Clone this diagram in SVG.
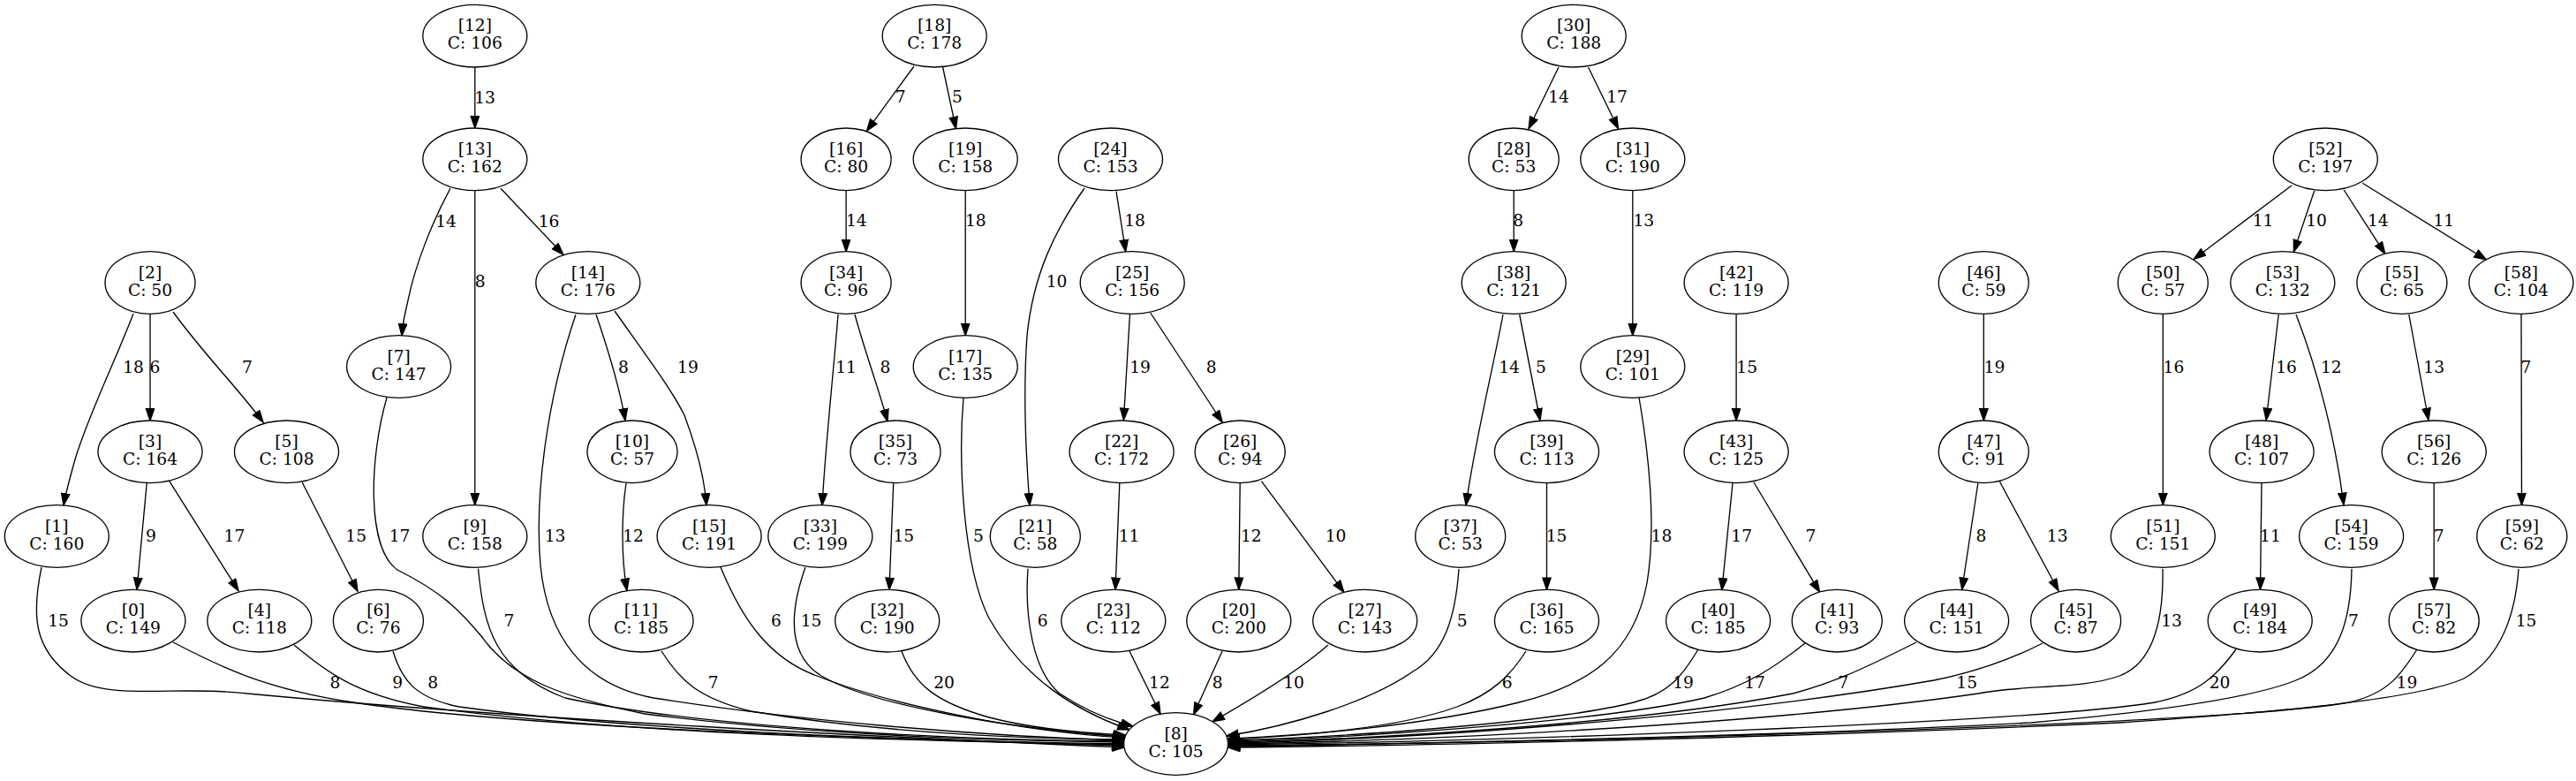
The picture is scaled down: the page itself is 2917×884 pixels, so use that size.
<svg xmlns="http://www.w3.org/2000/svg" width="2917" height="884" viewBox="0 0 2917 884">
<style>
.node ellipse{fill:#fff;stroke:#000;stroke-width:1.33}
text{font-family:"DejaVu Serif","Liberation Serif",serif;font-size:18.67px;text-anchor:middle;fill:#000}
#edges path{fill:none;stroke:#000;stroke-width:1.33;marker-end:url(#arr)}
</style>
<defs>
<marker id="arr" markerUnits="userSpaceOnUse" markerWidth="16" markerHeight="12" refX="14" refY="5.37" orient="auto">
<path d="M0.7,0.7 L14,5.37 L0.7,10 z" fill="#000" stroke="#000" stroke-width="1.33"/>
</marker>
</defs>
<rect width="2917" height="884" fill="#fff"/>
<g id="edges">
<path d="M537.8,76 L537.8,145"/>
<path d="M1035,75 L981.4,148.3"/>
<path d="M1067.6,76 L1082.5,145.7"/>
<path d="M958.1,215.6 L958.1,284.7"/>
<path d="M1093.2,215.6 L1093.2,379.7"/>
<path d="M1264,216.7 L1274.7,285"/>
<path d="M1228,213 C1195,260 1170,310 1163,380 C1158,450 1162,520 1166,572"/>
<path d="M949,356 C944,420 935,500 931,572"/>
<path d="M968,356 C980,400 995,440 1005,477"/>
<path d="M1279.4,356 L1272.4,475.5"/>
<path d="M1302.7,354 L1384.2,478"/>
<path d="M1011.7,547 L1007,667.5"/>
<path d="M1267.8,547 L1263,667.5"/>
<path d="M1404.2,546.6 L1402.8,667.4"/>
<path d="M1428.4,544.7 L1521.9,670.3"/>
<path d="M510,213 C490,250 470,300 462,340 C458,355 456,368 455,380"/>
<path d="M537.8,215.6 L537.8,571.7"/>
<path d="M567,213.3 L637.9,288.3"/>
<path d="M675,356 C690,400 702,440 708,476"/>
<path d="M696,352 C730,400 760,440 775,470 C790,510 798,545 800,572"/>
<path d="M151,355 C130,410 100,470 85,520 C78,545 74,560 72,572"/>
<path d="M170,355.3 L170,476"/>
<path d="M196,353 C230,400 270,440 298,478"/>
<path d="M166.2,547 L155,667.5"/>
<path d="M191.8,544.7 L270,668.7"/>
<path d="M342.2,546 L405,669.3"/>
<path d="M709,547 C704,580 703,630 710,668.5"/>
<path d="M1765,76 L1731,145.7"/>
<path d="M1798.5,76 L1832.5,145.7"/>
<path d="M1714.2,215.6 L1714.2,284.7"/>
<path d="M1848.8,215.6 L1848.8,379.7"/>
<path d="M1702,356 C1690,420 1670,500 1660,572"/>
<path d="M1720.7,356 L1744,476"/>
<path d="M1751.5,546.6 L1751.5,667.4"/>
<path d="M1966.1,355.3 L1966.1,476"/>
<path d="M1962,547 L1949.8,668"/>
<path d="M1986,546 L2060.6,670.3"/>
<path d="M2246.3,355.3 L2246.3,476"/>
<path d="M2239.8,547 L2221.7,667.5"/>
<path d="M2264.5,545.3 L2331,668.7"/>
<path d="M2595,210 L2484.3,293.3"/>
<path d="M2620.7,216 L2597.4,285"/>
<path d="M2654.2,215 L2700.8,287.3"/>
<path d="M2675.2,207.3 L2815.3,294"/>
<path d="M2449.3,355.3 L2449.3,571.7"/>
<path d="M2580.2,356 L2566.2,475.5"/>
<path d="M2600,356 C2625,420 2645,500 2654,571.5"/>
<path d="M2727.8,356 L2750,475.5"/>
<path d="M2855,355.3 L2855.5,571.7"/>
<path d="M2561,546.6 L2559.5,667.4"/>
<path d="M2756.2,546.6 L2756.2,667.4"/>
<path d="M47,642 C35,700 40,735 80,765 C120,795 200,775 280,785 C600,815 1000,834 1273,846"/>
<path d="M196,727 C250,755 300,780 400,795 C600,825 1000,836 1272.6,844"/>
<path d="M333,730 C370,760 400,785 480,800 C700,830 1000,838 1272.6,843"/>
<path d="M445,737 C455,770 470,790 520,800 C700,825 1000,838 1272.6,842"/>
<path d="M438,450 C418,520 415,620 450,645 C500,670 520,690 545,720 C580,770 640,790 730,808 C900,830 1100,838 1272.7,840"/>
<path d="M541.5,643.7 C548,710 560,760 640,790 C800,825 1100,838 1272.8,839"/>
<path d="M652,356 C620,450 605,560 612,640 C620,720 660,775 740,790 C900,815 1100,833 1273,838"/>
<path d="M749,737 C770,770 790,790 850,805 C1000,830 1150,836 1273,837"/>
<path d="M816,642 C840,700 870,745 925,765 C1000,795 1150,828 1273.5,835"/>
<path d="M912,642 C895,690 890,740 930,765 C990,800 1150,825 1274,834"/>
<path d="M1021,737 C1035,775 1060,795 1120,812 C1170,825 1230,830 1274.5,832"/>
<path d="M1091,450 C1085,520 1090,640 1120,700 C1160,770 1220,805 1279,826"/>
<path d="M1164,643.7 C1160,700 1170,760 1200,785 C1230,805 1255,815 1283,822"/>
<path d="M1279,737 L1314,808.3"/>
<path d="M1384,737 L1351.6,808.8"/>
<path d="M1504,730 C1470,760 1420,790 1373,816.8"/>
<path d="M1652,644 C1648,700 1635,740 1600,760 C1550,795 1460,822 1389,833"/>
<path d="M1728,737 C1710,765 1690,785 1650,800 C1580,825 1480,832 1390,836"/>
<path d="M1856,450 C1868,520 1875,600 1865,660 C1850,740 1800,775 1720,795 C1620,820 1480,833 1390.5,837"/>
<path d="M1923,735 C1905,765 1890,785 1850,795 C1750,820 1500,835 1390.5,838"/>
<path d="M2044,728 C2010,755 1980,775 1930,790 C1800,820 1500,836 1390.5,839"/>
<path d="M2170,727 C2120,752 2080,772 2030,785 C1850,820 1550,837 1390.5,840"/>
<path d="M2313,728 C2280,745 2240,760 2190,770 C1950,812 1600,837 1390.5,841"/>
<path d="M2449,644 C2450,700 2440,750 2400,765 C2360,780 2290,775 2240,785 C2000,820 1600,839 1390.5,842"/>
<path d="M2532,735 C2510,765 2490,785 2440,795 C2300,818 1700,839 1390.5,843"/>
<path d="M2663,644 C2662,700 2650,750 2600,770 C2550,790 2450,805 2300,818 C2000,834 1600,842 1390.5,844"/>
<path d="M2737,735 C2720,762 2705,785 2660,795 C2550,815 2000,836 1390.5,845"/>
<path d="M2852,644 C2848,700 2830,745 2790,768 C2740,790 2600,805 2400,818 C2000,836 1600,844 1390.5,846"/>
</g>
<g id="edge-labels">
<text x="549" y="116.5">13</text>
<text x="505" y="256.5">14</text>
<text x="621.6" y="256.5">16</text>
<text x="543.8" y="324.5">8</text>
<text x="151" y="421.5">18</text>
<text x="175.5" y="421.5">6</text>
<text x="280" y="421.5">7</text>
<text x="706" y="421.5">8</text>
<text x="1019.6" y="115.5">7</text>
<text x="1083.9" y="115.5">5</text>
<text x="969.8" y="255.5">14</text>
<text x="1104.8" y="255.5">18</text>
<text x="1285" y="255.5">18</text>
<text x="1196.5" y="324.5">10</text>
<text x="778.9" y="421.5">19</text>
<text x="958" y="421.5">11</text>
<text x="1002.4" y="421.5">8</text>
<text x="1291" y="421.5">19</text>
<text x="1371.6" y="421.5">8</text>
<text x="1765" y="115.5">14</text>
<text x="1831" y="115.5">17</text>
<text x="1719.3" y="255.5">8</text>
<text x="1861.3" y="255.5">13</text>
<text x="1709" y="421.5">14</text>
<text x="1745" y="421.5">5</text>
<text x="1978.2" y="421.5">15</text>
<text x="2562.5" y="255.5">11</text>
<text x="2623" y="255.5">10</text>
<text x="2692.8" y="255.5">14</text>
<text x="2767.3" y="255.5">11</text>
<text x="2258.4" y="421.5">19</text>
<text x="2461.4" y="421.5">16</text>
<text x="2589" y="421.5">16</text>
<text x="2639.8" y="421.5">12</text>
<text x="2756.2" y="421.5">13</text>
<text x="2860.5" y="421.5">7</text>
<text x="170.9" y="612.5">9</text>
<text x="265.4" y="612.5">17</text>
<text x="403.2" y="612.5">15</text>
<text x="452.6" y="612.5">17</text>
<text x="628.6" y="612.5">13</text>
<text x="717" y="612.5">12</text>
<text x="66.1" y="708.5">15</text>
<text x="576.4" y="708.5">7</text>
<text x="379.5" y="778.5">8</text>
<text x="450.2" y="778.5">9</text>
<text x="490.3" y="778.5">8</text>
<text x="1023.3" y="612.5">15</text>
<text x="1108" y="612.5">5</text>
<text x="1278.5" y="612.5">11</text>
<text x="1416.8" y="612.5">12</text>
<text x="879" y="708.5">6</text>
<text x="918.6" y="708.5">15</text>
<text x="1180.7" y="708.5">6</text>
<text x="807.8" y="778.5">7</text>
<text x="1069" y="778.5">20</text>
<text x="1312.9" y="778.5">12</text>
<text x="1378.6" y="778.5">8</text>
<text x="1465" y="778.5">10</text>
<text x="1512.6" y="612.5">10</text>
<text x="1762.6" y="612.5">15</text>
<text x="1881.4" y="612.5">18</text>
<text x="1972.2" y="612.5">17</text>
<text x="2050.4" y="612.5">7</text>
<text x="1655.6" y="708.5">5</text>
<text x="1706.8" y="778.5">6</text>
<text x="1906" y="778.5">19</text>
<text x="1987" y="778.5">17</text>
<text x="2087.2" y="778.5">7</text>
<text x="2243.5" y="612.5">8</text>
<text x="2329.7" y="612.5">13</text>
<text x="2570.9" y="612.5">11</text>
<text x="2761.8" y="612.5">7</text>
<text x="2459.1" y="708.5">13</text>
<text x="2664.9" y="708.5">7</text>
<text x="2860.5" y="708.5">15</text>
<text x="2227.2" y="778.5">15</text>
<text x="2513.6" y="778.5">20</text>
<text x="2725.4" y="778.5">19</text>
</g>
<g id="n12" class="node"><ellipse cx="537.8" cy="40.7" rx="59" ry="35.3"/><text x="537.8" y="35.4">[12]</text><text x="537.8" y="55.4">C: 106</text></g>
<g id="n18" class="node"><ellipse cx="1058.2" cy="40.7" rx="59" ry="35.3"/><text x="1058.2" y="35.4">[18]</text><text x="1058.2" y="55.4">C: 178</text></g>
<g id="n30" class="node"><ellipse cx="1782.2" cy="40.7" rx="59" ry="35.3"/><text x="1782.2" y="35.4">[30]</text><text x="1782.2" y="55.4">C: 188</text></g>
<g id="n13" class="node"><ellipse cx="537.8" cy="180.3" rx="59" ry="35.3"/><text x="537.8" y="175">[13]</text><text x="537.8" y="195">C: 162</text></g>
<g id="n16" class="node"><ellipse cx="958.1" cy="180.3" rx="51" ry="35.3"/><text x="958.1" y="175">[16]</text><text x="958.1" y="195">C: 80</text></g>
<g id="n19" class="node"><ellipse cx="1093.2" cy="180.3" rx="59" ry="35.3"/><text x="1093.2" y="175">[19]</text><text x="1093.2" y="195">C: 158</text></g>
<g id="n24" class="node"><ellipse cx="1257.5" cy="180.3" rx="59" ry="35.3"/><text x="1257.5" y="175">[24]</text><text x="1257.5" y="195">C: 153</text></g>
<g id="n28" class="node"><ellipse cx="1714.2" cy="180.3" rx="51" ry="35.3"/><text x="1714.2" y="175">[28]</text><text x="1714.2" y="195">C: 53</text></g>
<g id="n31" class="node"><ellipse cx="1848.8" cy="180.3" rx="59" ry="35.3"/><text x="1848.8" y="175">[31]</text><text x="1848.8" y="195">C: 190</text></g>
<g id="n52" class="node"><ellipse cx="2633.3" cy="180.3" rx="59" ry="35.3"/><text x="2633.3" y="175">[52]</text><text x="2633.3" y="195">C: 197</text></g>
<g id="n2" class="node"><ellipse cx="170" cy="320" rx="51" ry="35.3"/><text x="170" y="314.7">[2]</text><text x="170" y="334.7">C: 50</text></g>
<g id="n14" class="node"><ellipse cx="665.8" cy="320" rx="59" ry="35.3"/><text x="665.8" y="314.7">[14]</text><text x="665.8" y="334.7">C: 176</text></g>
<g id="n34" class="node"><ellipse cx="958.1" cy="320" rx="51" ry="35.3"/><text x="958.1" y="314.7">[34]</text><text x="958.1" y="334.7">C: 96</text></g>
<g id="n25" class="node"><ellipse cx="1282.2" cy="320" rx="59" ry="35.3"/><text x="1282.2" y="314.7">[25]</text><text x="1282.2" y="334.7">C: 156</text></g>
<g id="n38" class="node"><ellipse cx="1714.2" cy="320" rx="59" ry="35.3"/><text x="1714.2" y="314.7">[38]</text><text x="1714.2" y="334.7">C: 121</text></g>
<g id="n42" class="node"><ellipse cx="1966.1" cy="320" rx="59" ry="35.3"/><text x="1966.1" y="314.7">[42]</text><text x="1966.1" y="334.7">C: 119</text></g>
<g id="n46" class="node"><ellipse cx="2246.3" cy="320" rx="51" ry="35.3"/><text x="2246.3" y="314.7">[46]</text><text x="2246.3" y="334.7">C: 59</text></g>
<g id="n50" class="node"><ellipse cx="2449.3" cy="320" rx="51" ry="35.3"/><text x="2449.3" y="314.7">[50]</text><text x="2449.3" y="334.7">C: 57</text></g>
<g id="n53" class="node"><ellipse cx="2584.8" cy="320" rx="59" ry="35.3"/><text x="2584.8" y="314.7">[53]</text><text x="2584.8" y="334.7">C: 132</text></g>
<g id="n55" class="node"><ellipse cx="2719.9" cy="320" rx="51" ry="35.3"/><text x="2719.9" y="314.7">[55]</text><text x="2719.9" y="334.7">C: 65</text></g>
<g id="n58" class="node"><ellipse cx="2854.9" cy="320" rx="59" ry="35.3"/><text x="2854.9" y="314.7">[58]</text><text x="2854.9" y="334.7">C: 104</text></g>
<g id="n7" class="node"><ellipse cx="451.6" cy="415" rx="59" ry="35.3"/><text x="451.6" y="409.7">[7]</text><text x="451.6" y="429.7">C: 147</text></g>
<g id="n17" class="node"><ellipse cx="1093.2" cy="415" rx="59" ry="35.3"/><text x="1093.2" y="409.7">[17]</text><text x="1093.2" y="429.7">C: 135</text></g>
<g id="n29" class="node"><ellipse cx="1848.8" cy="415" rx="59" ry="35.3"/><text x="1848.8" y="409.7">[29]</text><text x="1848.8" y="429.7">C: 101</text></g>
<g id="n3" class="node"><ellipse cx="170" cy="511.3" rx="59" ry="35.3"/><text x="170" y="506">[3]</text><text x="170" y="526">C: 164</text></g>
<g id="n5" class="node"><ellipse cx="324.5" cy="511.3" rx="59" ry="35.3"/><text x="324.5" y="506">[5]</text><text x="324.5" y="526">C: 108</text></g>
<g id="n10" class="node"><ellipse cx="716" cy="511.3" rx="51" ry="35.3"/><text x="716" y="506">[10]</text><text x="716" y="526">C: 57</text></g>
<g id="n35" class="node"><ellipse cx="1014" cy="511.3" rx="51" ry="35.3"/><text x="1014" y="506">[35]</text><text x="1014" y="526">C: 73</text></g>
<g id="n22" class="node"><ellipse cx="1270.1" cy="511.3" rx="59" ry="35.3"/><text x="1270.1" y="506">[22]</text><text x="1270.1" y="526">C: 172</text></g>
<g id="n26" class="node"><ellipse cx="1404.2" cy="511.3" rx="51" ry="35.3"/><text x="1404.2" y="506">[26]</text><text x="1404.2" y="526">C: 94</text></g>
<g id="n39" class="node"><ellipse cx="1751.5" cy="511.3" rx="59" ry="35.3"/><text x="1751.5" y="506">[39]</text><text x="1751.5" y="526">C: 113</text></g>
<g id="n43" class="node"><ellipse cx="1966.1" cy="511.3" rx="59" ry="35.3"/><text x="1966.1" y="506">[43]</text><text x="1966.1" y="526">C: 125</text></g>
<g id="n47" class="node"><ellipse cx="2246.3" cy="511.3" rx="51" ry="35.3"/><text x="2246.3" y="506">[47]</text><text x="2246.3" y="526">C: 91</text></g>
<g id="n48" class="node"><ellipse cx="2561.1" cy="511.3" rx="59" ry="35.3"/><text x="2561.1" y="506">[48]</text><text x="2561.1" y="526">C: 107</text></g>
<g id="n56" class="node"><ellipse cx="2756.2" cy="511.3" rx="59" ry="35.3"/><text x="2756.2" y="506">[56]</text><text x="2756.2" y="526">C: 126</text></g>
<g id="n1" class="node"><ellipse cx="64.3" cy="607" rx="59" ry="35.3"/><text x="64.3" y="601.7">[1]</text><text x="64.3" y="621.7">C: 160</text></g>
<g id="n9" class="node"><ellipse cx="537.8" cy="607" rx="59" ry="35.3"/><text x="537.8" y="601.7">[9]</text><text x="537.8" y="621.7">C: 158</text></g>
<g id="n15" class="node"><ellipse cx="803.1" cy="607" rx="59" ry="35.3"/><text x="803.1" y="601.7">[15]</text><text x="803.1" y="621.7">C: 191</text></g>
<g id="n33" class="node"><ellipse cx="928.8" cy="607" rx="59" ry="35.3"/><text x="928.8" y="601.7">[33]</text><text x="928.8" y="621.7">C: 199</text></g>
<g id="n21" class="node"><ellipse cx="1172.3" cy="607" rx="51" ry="35.3"/><text x="1172.3" y="601.7">[21]</text><text x="1172.3" y="621.7">C: 58</text></g>
<g id="n37" class="node"><ellipse cx="1653.7" cy="607" rx="51" ry="35.3"/><text x="1653.7" y="601.7">[37]</text><text x="1653.7" y="621.7">C: 53</text></g>
<g id="n51" class="node"><ellipse cx="2449.3" cy="607" rx="59" ry="35.3"/><text x="2449.3" y="601.7">[51]</text><text x="2449.3" y="621.7">C: 151</text></g>
<g id="n54" class="node"><ellipse cx="2662.6" cy="607" rx="59" ry="35.3"/><text x="2662.6" y="601.7">[54]</text><text x="2662.6" y="621.7">C: 159</text></g>
<g id="n59" class="node"><ellipse cx="2855.8" cy="607" rx="51" ry="35.3"/><text x="2855.8" y="601.7">[59]</text><text x="2855.8" y="621.7">C: 62</text></g>
<g id="n0" class="node"><ellipse cx="150.9" cy="702.7" rx="59" ry="35.3"/><text x="150.9" y="697.4">[0]</text><text x="150.9" y="717.4">C: 149</text></g>
<g id="n4" class="node"><ellipse cx="293.8" cy="702.7" rx="59" ry="35.3"/><text x="293.8" y="697.4">[4]</text><text x="293.8" y="717.4">C: 118</text></g>
<g id="n6" class="node"><ellipse cx="428.4" cy="702.7" rx="51" ry="35.3"/><text x="428.4" y="697.4">[6]</text><text x="428.4" y="717.4">C: 76</text></g>
<g id="n11" class="node"><ellipse cx="726" cy="702.7" rx="59" ry="35.3"/><text x="726" y="697.4">[11]</text><text x="726" y="717.4">C: 185</text></g>
<g id="n32" class="node"><ellipse cx="1004.7" cy="702.7" rx="59" ry="35.3"/><text x="1004.7" y="697.4">[32]</text><text x="1004.7" y="717.4">C: 190</text></g>
<g id="n23" class="node"><ellipse cx="1260.8" cy="702.7" rx="59" ry="35.3"/><text x="1260.8" y="697.4">[23]</text><text x="1260.8" y="717.4">C: 112</text></g>
<g id="n20" class="node"><ellipse cx="1402.8" cy="702.7" rx="59" ry="35.3"/><text x="1402.8" y="697.4">[20]</text><text x="1402.8" y="717.4">C: 200</text></g>
<g id="n27" class="node"><ellipse cx="1545.7" cy="702.7" rx="59" ry="35.3"/><text x="1545.7" y="697.4">[27]</text><text x="1545.7" y="717.4">C: 143</text></g>
<g id="n36" class="node"><ellipse cx="1751.5" cy="702.7" rx="59" ry="35.3"/><text x="1751.5" y="697.4">[36]</text><text x="1751.5" y="717.4">C: 165</text></g>
<g id="n40" class="node"><ellipse cx="1945.6" cy="702.7" rx="59" ry="35.3"/><text x="1945.6" y="697.4">[40]</text><text x="1945.6" y="717.4">C: 185</text></g>
<g id="n41" class="node"><ellipse cx="2080.2" cy="702.7" rx="51" ry="35.3"/><text x="2080.2" y="697.4">[41]</text><text x="2080.2" y="717.4">C: 93</text></g>
<g id="n44" class="node"><ellipse cx="2215.6" cy="702.7" rx="59" ry="35.3"/><text x="2215.6" y="697.4">[44]</text><text x="2215.6" y="717.4">C: 151</text></g>
<g id="n45" class="node"><ellipse cx="2350.6" cy="702.7" rx="51" ry="35.3"/><text x="2350.6" y="697.4">[45]</text><text x="2350.6" y="717.4">C: 87</text></g>
<g id="n49" class="node"><ellipse cx="2559.2" cy="702.7" rx="59" ry="35.3"/><text x="2559.2" y="697.4">[49]</text><text x="2559.2" y="717.4">C: 184</text></g>
<g id="n57" class="node"><ellipse cx="2756.2" cy="702.7" rx="51" ry="35.3"/><text x="2756.2" y="697.4">[57]</text><text x="2756.2" y="717.4">C: 82</text></g>
<g id="n8" class="node"><ellipse cx="1331.6" cy="842" rx="59" ry="35.3"/><text x="1331.6" y="836.7">[8]</text><text x="1331.6" y="856.7">C: 105</text></g>
</svg>
